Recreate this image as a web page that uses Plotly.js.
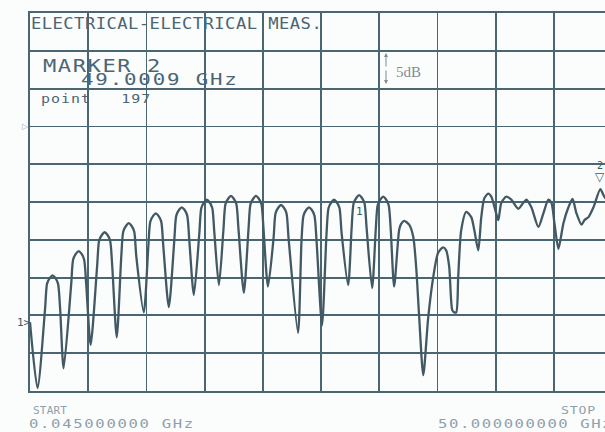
<!DOCTYPE html>
<html>
<head>
<meta charset="utf-8">
<script src="https://cdn.plot.ly/plotly-3.0.1.min.js"></script>
<style>
html,body{margin:0;padding:0;overflow:hidden;background:#fbfcfc;}
#chart{width:617px;height:432px;}
</style>
</head>
<body>
<div id="chart"></div>
<script>
const freqGHz = [0.045, 0.69,
 1.34,1.51,1.77,1.98,2.20,2.45,2.63, 2.93,
 3.58,3.75,4.01,4.22,4.44,4.69,4.87, 5.25,
 5.81,5.98,6.24,6.45,6.67,6.92,7.10, 7.49,
 7.88,8.05,8.31,8.52,8.74,8.99,9.17, 9.81,
 10.20,10.37,10.63,10.84,11.06,11.31,11.49, 11.96,
 12.43,12.60,12.86,13.07,13.29,13.54,13.72, 14.11,
 14.58,14.75,15.01,15.22,15.44,15.69,15.87, 16.26,
 16.65,16.82,17.08,17.29,17.51,17.76,17.94, 18.40,
 18.80,18.97,19.23,19.44,19.66,19.91,20.09, 20.47,
 20.95,21.12,21.38,21.59,21.81,22.06,22.24, 23.05,
 23.35,23.52,23.78,23.99,24.21,24.46,24.64, 25.11,
 25.50,25.67,25.93,26.14,26.36,26.61,26.79, 27.35,
 27.65,27.82,28.08,28.29,28.51,28.76,28.94, 29.41,
 29.72,29.89,30.15,30.36,30.58,30.83,31.01, 31.30,
 31.73,31.90,32.16,32.59,32.94,33.19,33.45, 33.80,
 34.23,34.66,35.08,35.51,35.77,36.03,36.29,36.46,36.63,
 36.80,37.06,37.49,37.92,38.18,38.52,
 38.78,39.04,39.38,39.64,39.99,40.24,
 40.50,40.93,41.36,41.96,42.39,42.65,43.08,43.68,44.11,44.54,44.80,45.06,45.40,
 45.83,46.26,46.61,46.95,47.38,47.64,47.98,48.41,49.00,49.27,49.53,50.0];
const s21dB = [-25.9, -34.6,
 -24.1,-20.8,-20.0,-19.7,-20.0,-20.8,-24.1, -32.0,
 -20.9,-17.6,-16.8,-16.5,-16.8,-17.6,-20.9, -28.9,
 -18.4,-15.1,-14.3,-14.0,-14.3,-15.1,-18.4, -27.9,
 -17.2,-13.9,-13.1,-12.8,-13.1,-13.9,-17.2, -24.6,
 -15.9,-12.6,-11.8,-11.5,-11.8,-12.6,-15.9, -23.9,
 -15.1,-11.8,-11.0,-10.7,-11.0,-11.8,-15.1, -22.3,
 -14.1,-10.8,-10.0,-9.7,-10.0,-10.8,-14.1, -21.0,
 -13.6,-10.3,-9.5,-9.2,-9.5,-10.3,-13.6, -22.0,
 -13.6,-10.3,-9.5,-9.2,-9.5,-10.3,-13.6, -21.2,
 -14.8,-11.5,-10.7,-10.4,-10.7,-11.5,-14.8, -27.3,
 -15.1,-11.8,-11.0,-10.7,-11.0,-11.8,-15.1, -26.3,
 -14.1,-10.8,-10.0,-9.7,-10.0,-10.8,-14.1, -21.0,
 -13.5,-10.2,-9.4,-9.1,-9.4,-10.2,-13.5, -21.4,
 -13.7,-10.4,-9.6,-9.3,-9.6,-10.4,-13.7, -21.2,
 -13.7,-12.9,-12.5,-13.0,-14.6,-18.6,-25.2, -32.9,
 -25.2,-19.9,-16.7,-16.0,-16.4,-18.6,-24.3,-24.6,-24.6,
 -19.9,-13.7,-11.3,-12.0,-13.7,-16.4,
 -12.0,-9.5,-8.9,-9.3,-11.1,-12.4,
 -10.1,-9.3,-9.7,-10.9,-10.1,-9.7,-10.7,-13.3,-11.5,-9.7,-10.1,-12.8,-16.2,
 -12.8,-10.7,-9.6,-11.5,-13.0,-12.4,-12.0,-10.7,-8.3,-9.1,-9.7,-10.6];

const startGHz = 0.045, stopGHz = 50.0;
const refDB = 0, dbPerDiv = 5, divisions = 10;
const marker1 = {f: 28.29, db: -9.1};
const marker2 = {f: 49.0009, db: -8.3};

const titleText = "ELECTRICAL-ELECTRICAL MEAS.";
const markerLabel = "MARKER 2";
const markerValue = "49.0009 GHz";
const pointLabel = "point   197";
const scaleLabel = "5dB";
const startLabel = "START";
const startValue = "0.045000000 GHz";
const stopLabel = "STOP";
const stopValue = "50.000000000 GHz";

const ink = "#4b6673", trace = "#425964", light = "#8fa0aa";
const mono = "DejaVu Sans Mono";

// pixel helpers for label placement (plot area 30..612 x 13..391)
const px = v => (v - 30) / 582;
const py = v => (391 - v) / 378;

const yTop = refDB + 3 * dbPerDiv, yBot = yTop - divisions * dbPerDiv;

// ls = letter spacing, sx = horizontal stretch (plotter font is wide)
const ann = [
 {text: titleText, x: px(29), y: py(23), size: 16, color: ink, ls: 0.4, sx: 1.075},
 {text: markerLabel, x: px(41), y: py(66), size: 17, color: ink, ls: 1.2, sx: 1.3},
 {text: markerValue, x: px(79), y: py(80), size: 16, color: ink, ls: 1.4, sx: 1.3},
 {text: pointLabel, x: px(39), y: py(98), size: 13, color: ink, ls: 0.9, sx: 1.15},
 {text: startLabel, x: px(31), y: py(410), size: 11, color: light, ls: 0.2, sx: 1.0},
 {text: startValue, x: px(27), y: py(423), size: 13, color: light, ls: 1.4, sx: 1.2},
 {text: stopLabel, x: px(559), y: py(410), size: 11, color: light, ls: 0.7, sx: 1.2},
 {text: stopValue, x: px(436), y: py(423), size: 13, color: light, ls: 1.3, sx: 1.2}
];

const annotations = ann.map(a => ({
 xref: 'paper', yref: 'paper', x: a.x, y: a.y, xanchor: 'left', yanchor: 'middle',
 align: 'left', showarrow: false, text: a.text,
 font: {family: mono, size: a.size, color: a.color}
}));

annotations.push(
 {xref:'paper', yref:'paper', x: px(394), y: py(72), xanchor:'left', yanchor:'middle', showarrow:false,
  text: scaleLabel, font:{family:'Liberation Serif', size:15, color:'#7f8d95'}},
 {xref:'paper', yref:'paper', x: px(386), y: py(53), ax: 0, ay: 15, axref:'pixel', ayref:'pixel',
  showarrow:true, arrowhead:2, arrowsize:0.8, arrowwidth:1, arrowcolor:'#7f8d95', text:''},
 {xref:'paper', yref:'paper', x: px(386), y: py(84), ax: 0, ay: -15, axref:'pixel', ayref:'pixel',
  showarrow:true, arrowhead:2, arrowsize:0.8, arrowwidth:1, arrowcolor:'#7f8d95', text:''},
 {xref:'x', yref:'y', x: marker1.f, y: marker1.db, yshift: -16, showarrow:false, text:'1',
  font:{family: mono, size: 11, color: trace}},
 {xref:'x', yref:'y', x: marker2.f, y: marker2.db, yshift: 12, showarrow:false, text:'▽',
  font:{family:'DejaVu Sans', size: 12, color: trace}},
 {xref:'x', yref:'y', x: marker2.f, y: marker2.db, yshift: 24, showarrow:false, text:'2',
  font:{family: mono, size: 10, color: trace}},
 {xref:'paper', yref:'y', x: 0, y: s21dB[0], xanchor:'right', xshift: 3, showarrow:false, text:'1>',
  font:{family: mono, size: 11, color: trace}},
 {xref:'paper', yref:'y', x: 0, y: refDB, xanchor:'right', xshift: 1, showarrow:false, text:'▷',
  font:{family:'DejaVu Sans', size: 8, color: '#a4b2ba'}}
);

const data = [{
 x: freqGHz, y: s21dB, type: 'scatter', mode: 'lines',
 line: {color: trace, width: 2.3, shape: 'spline', smoothing: 0.7}, hoverinfo: 'skip'
}];

const axisCommon = {
 showticklabels: false, ticks: '', zeroline: false,
 showgrid: true, gridcolor: ink, gridwidth: 1.8,
 showline: true, linecolor: ink, linewidth: 2, mirror: true, fixedrange: true
};

const layout = {
 width: 617, height: 432,
 margin: {l: 30, r: 5, t: 13, b: 41},
 paper_bgcolor: '#fbfcfc', plot_bgcolor: '#fbfcfc',
 showlegend: false,
 xaxis: Object.assign({}, axisCommon, {range: [startGHz, stopGHz], tick0: startGHz, dtick: (stopGHz - startGHz) / divisions}),
 yaxis: Object.assign({}, axisCommon, {range: [yBot, yTop], tick0: yBot, dtick: dbPerDiv}),
 annotations: annotations
};

Plotly.newPlot('chart', data, layout, {displayModeBar: false, staticPlot: true}).then(gd => {
 gd.querySelectorAll('.annotation').forEach(g => {
  const i = +g.getAttribute('data-index');
  if (i < ann.length) {
   const t = g.querySelector('text.annotation-text');
   if (t) {
    t.style.letterSpacing = ann[i].ls + 'px';
    t.style.transformBox = 'fill-box';
    t.style.transformOrigin = '0% 50%';
    t.style.transform = 'scaleX(' + ann[i].sx + ')';
   }
  }
 });
});
</script>
</body>
</html>
